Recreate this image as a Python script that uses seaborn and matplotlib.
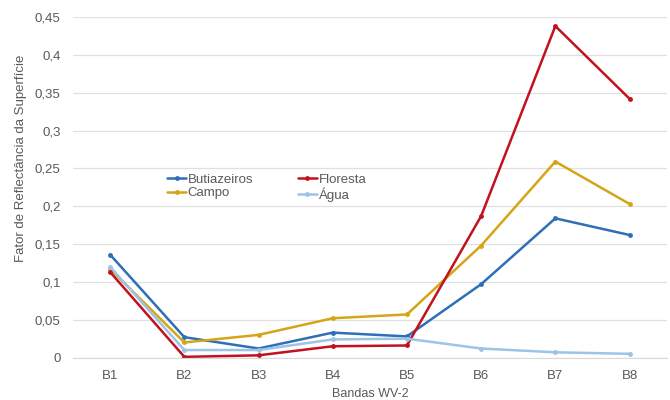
import pandas as pd
import numpy as np
import seaborn as sns
import matplotlib.pyplot as plt
from matplotlib.ticker import FuncFormatter

bandas = ["B1", "B2", "B3", "B4", "B5", "B6", "B7", "B8"]
butiazeiros = [0.136, 0.027, 0.012, 0.033, 0.028, 0.097, 0.184, 0.162]
floresta = [0.113, 0.001, 0.003, 0.015, 0.016, 0.187, 0.438, 0.342]
campo = [0.117, 0.020, 0.030, 0.052, 0.057, 0.148, 0.259, 0.203]
agua = [0.120, 0.010, 0.010, 0.024, 0.025, 0.012, 0.007, 0.005]

# ordem das colunas da legenda (2 colunas, preenchidas por coluna)
classes = ["Butiazeiros", "Campo", "Floresta", "Água"]
cores = {"Butiazeiros": "#2E6FB7", "Floresta": "#C0121F",
         "Campo": "#D4A517", "Água": "#9DC3E6"}

df = pd.concat([
    pd.DataFrame({"banda": bandas, "valor": butiazeiros, "classe": "Butiazeiros"}),
    pd.DataFrame({"banda": bandas, "valor": floresta, "classe": "Floresta"}),
    pd.DataFrame({"banda": bandas, "valor": campo, "classe": "Campo"}),
    pd.DataFrame({"banda": bandas, "valor": agua, "classe": "Água"}),
])

sns.set_style("white")
plt.rcParams['font.family'] = ['Liberation Sans', 'DejaVu Sans']

fig = plt.figure(figsize=(6.7, 4.0), dpi=100)
ax = fig.add_axes([0.109, 0.106, 0.886, 0.8515])

sns.lineplot(data=df, x="banda", y="valor", hue="classe", hue_order=classes,
             palette=cores, marker="o", markersize=3.5, markeredgewidth=0,
             linewidth=1.8, sort=False, ax=ax)

ax.set_ylim(0, 0.45)
ax.set_xlim(-0.5, 7.5)
ax.set_yticks(np.arange(0, 0.451, 0.05))
ax.yaxis.set_major_formatter(FuncFormatter(lambda v, p: f"{round(v, 2):g}".replace(".", ",")))
ax.grid(axis="y", color="#E0E0E0", linewidth=0.9)
ax.set_axisbelow(True)
for s in ["top", "right", "left"]:
    ax.spines[s].set_visible(False)
ax.spines["bottom"].set_color("#D9D9D9")
ax.tick_params(axis="y", length=0, labelsize=9.5, labelcolor="#595959", pad=9)
ax.tick_params(axis="x", length=0, labelsize=9.5, labelcolor="#595959", pad=9)

ax.set_xlabel("Bandas WV-2", fontsize=9, color="#595959", labelpad=4)
ax.set_ylabel("Fator de Reflectância da Superfície", fontsize=9.5, color="#595959")
ax.yaxis.set_label_coords(-0.077, 0.585)

ax.legend(loc="upper left", bbox_to_anchor=(0.15, 0.556), borderaxespad=0,
          ncol=2, frameon=False, fontsize=9.5, labelcolor="#595959",
          handlelength=1.4, handletextpad=0.15, columnspacing=3.4,
          labelspacing=0.1)

fig.savefig("out.png", dpi=100)
